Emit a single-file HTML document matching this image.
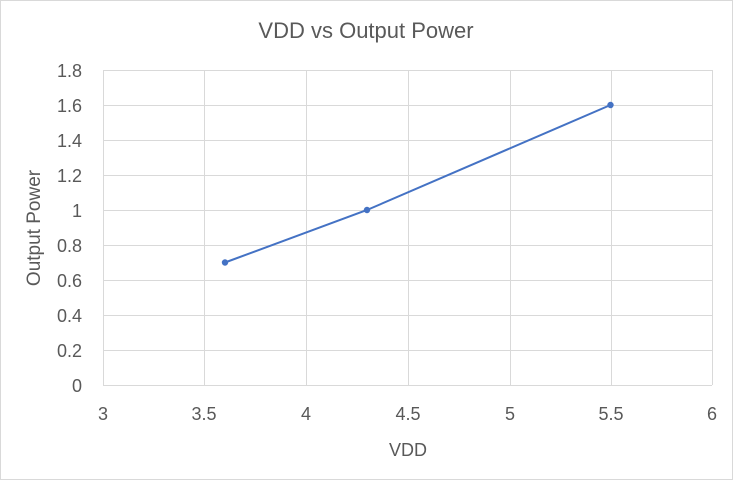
<!DOCTYPE html>
<html><head><style>
html,body{margin:0;padding:0;background:#fff;}
svg{display:block;font-family:"Liberation Sans",Calibri,sans-serif;}
</style></head><body>
<svg width="733" height="480" viewBox="0 0 733 480" xmlns="http://www.w3.org/2000/svg">
<rect x="0.5" y="0.5" width="732" height="479" fill="#fff" stroke="#d9d9d9"/>
<text x="366" y="38" text-anchor="middle" font-size="22" fill="#595959">VDD vs Output Power</text>
<g stroke="#d9d9d9" stroke-width="1">
<line x1="103" y1="70.5" x2="712" y2="70.5"/>
<line x1="103" y1="105.5" x2="712" y2="105.5"/>
<line x1="103" y1="140.5" x2="712" y2="140.5"/>
<line x1="103" y1="175.5" x2="712" y2="175.5"/>
<line x1="103" y1="210.5" x2="712" y2="210.5"/>
<line x1="103" y1="245.5" x2="712" y2="245.5"/>
<line x1="103" y1="280.5" x2="712" y2="280.5"/>
<line x1="103" y1="315.5" x2="712" y2="315.5"/>
<line x1="103" y1="350.5" x2="712" y2="350.5"/>
<line x1="103" y1="385.5" x2="712" y2="385.5"/>
<line x1="103.5" y1="70" x2="103.5" y2="385"/>
<line x1="204.5" y1="70" x2="204.5" y2="385"/>
<line x1="306.5" y1="70" x2="306.5" y2="385"/>
<line x1="408.5" y1="70" x2="408.5" y2="385"/>
<line x1="510.5" y1="70" x2="510.5" y2="385"/>
<line x1="611.5" y1="70" x2="611.5" y2="385"/>
<line x1="712.5" y1="70" x2="712.5" y2="385"/>
</g>
<g font-size="18" fill="#595959" text-anchor="end">
<text x="82" y="77">1.8</text>
<text x="82" y="112">1.6</text>
<text x="82" y="147">1.4</text>
<text x="82" y="182">1.2</text>
<text x="82" y="217">1</text>
<text x="82" y="252">0.8</text>
<text x="82" y="287">0.6</text>
<text x="82" y="322">0.4</text>
<text x="82" y="357">0.2</text>
<text x="82" y="392">0</text>
</g>
<g font-size="18" fill="#595959" text-anchor="middle">
<text x="103" y="420">3</text>
<text x="204" y="420">3.5</text>
<text x="306" y="420">4</text>
<text x="408" y="420">4.5</text>
<text x="510" y="420">5</text>
<text x="611" y="420">5.5</text>
<text x="712" y="420">6</text>
<text x="408" y="456">VDD</text>
</g>
<text transform="translate(40,228) rotate(-90)" font-size="19" fill="#595959" text-anchor="middle">Output Power</text>
<polyline points="225,262.5 367,210 610.5,105" fill="none" stroke="#4472c4" stroke-width="2"/>
<g fill="#4472c4">
<circle cx="225" cy="262.5" r="3.2"/>
<circle cx="367" cy="210" r="3.2"/>
<circle cx="610.5" cy="105" r="3.2"/>
</g>
</svg>
</body></html>
